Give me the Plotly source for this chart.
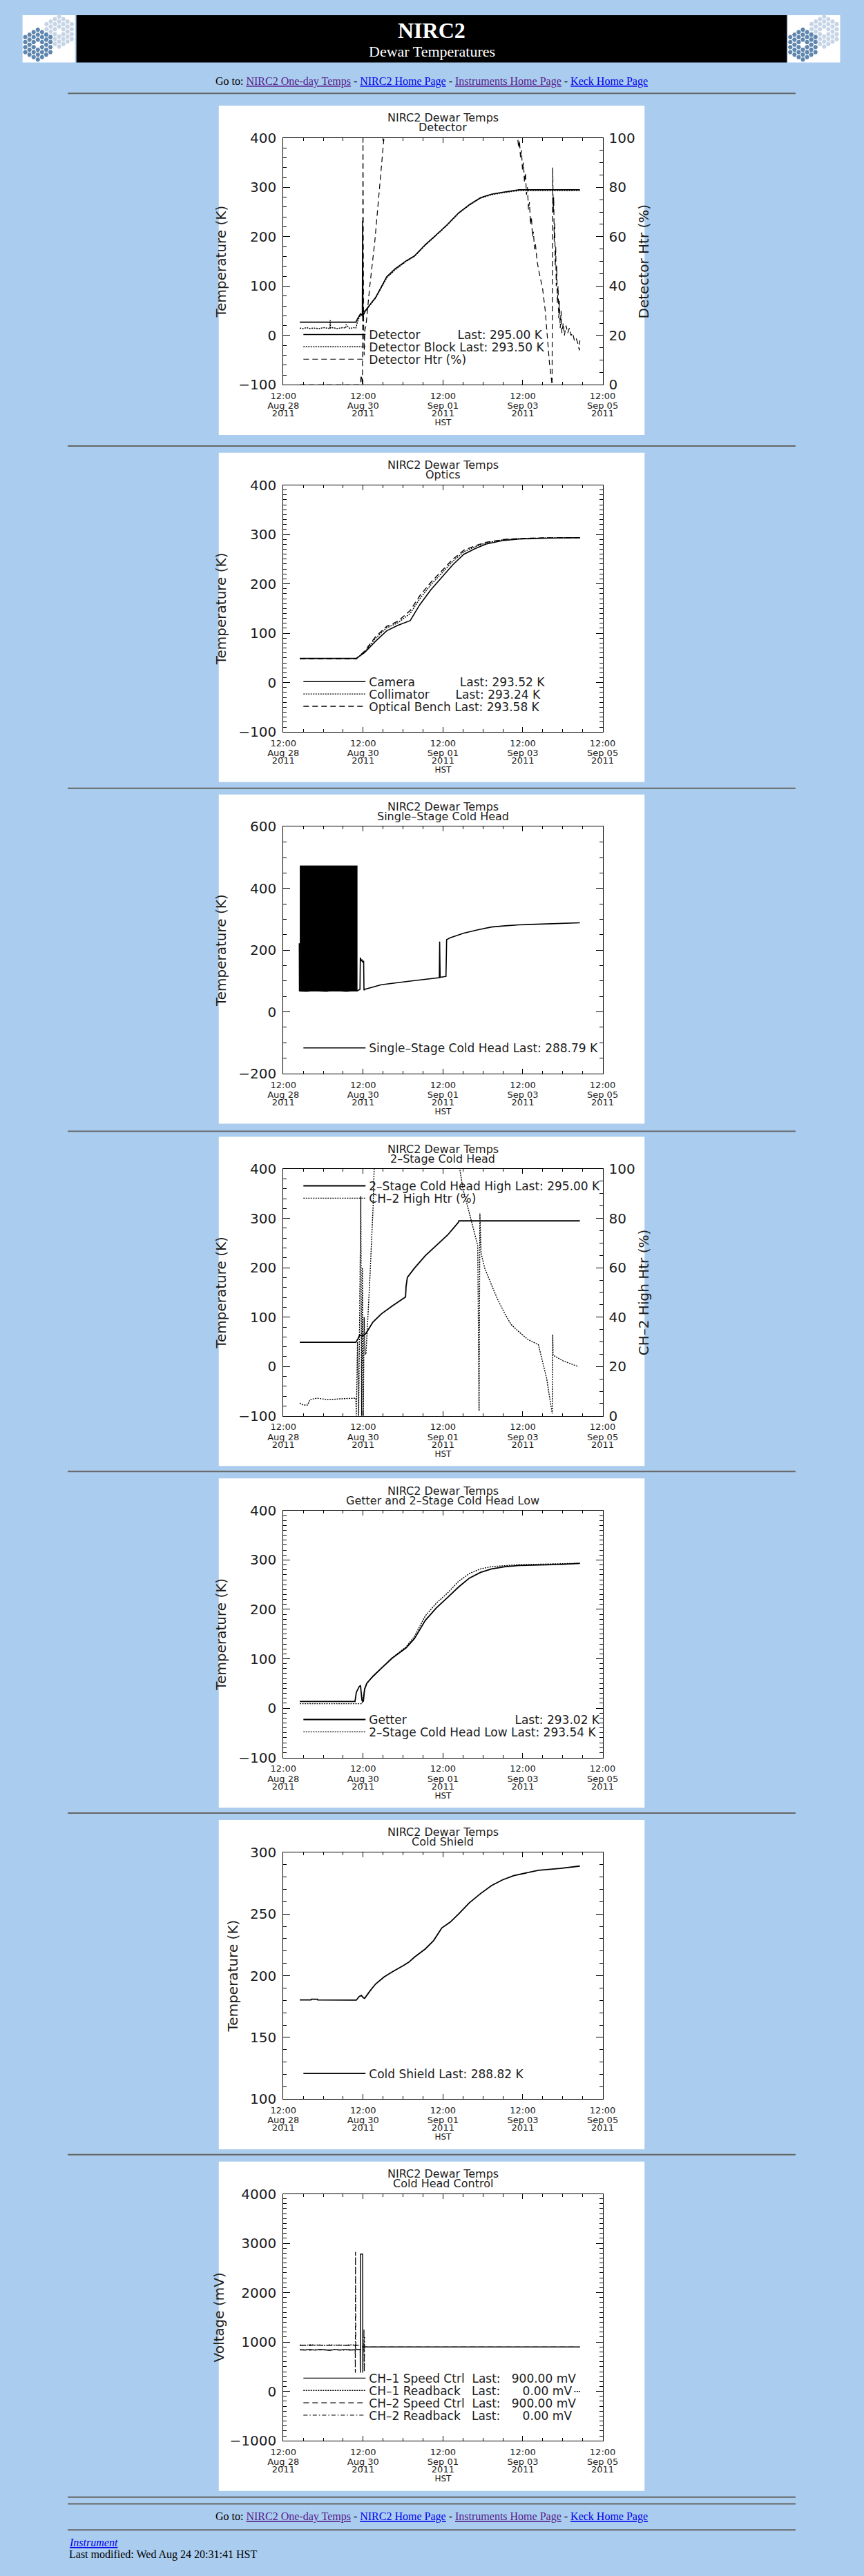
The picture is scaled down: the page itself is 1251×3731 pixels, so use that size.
import math
import plotly.graph_objects as go

# Page geometry (screen pixels, origin top-left)
PAGE_W, PAGE_H = 1251, 3731
PAGE_BG = "#AACCEE"
INK = "#1c1c1c"
PLOT_FONT = "DejaVu Sans"
PAGE_FONT = "Liberation Serif"

PANEL_TOPS = [142, 648, 1146, 1645, 2143, 2641, 3139]
RULES_Y = [124, 638, 1137, 1637, 2133, 2631, 3129, 3628, 3638, 3676]

# ---------------------------------------------------------------- data
# time axis: hours since 2011-08-28 12:00 HST
X_TICKS = [0, 48, 96, 144, 192]
X_TICK_TIME = ["12:00", "12:00", "12:00", "12:00", "12:00"]
X_TICK_DATE = ["Aug 28", "Aug 30", "Sep 01", "Sep 03", "Sep 05"]
X_TICK_YEAR = ["2011", "2011", "2011", "2011", "2011"]

# Detector (K)
DETECTOR = [(9.9, 27), (43.6, 27), (44.8, 35), (46.4, 44), (47.5, 41), (47.7, 232), (47.9, 40),
            (49.7, 52), (55.5, 77), (62.2, 119), (67.2, 135), (73.8, 151), (78.8, 161), (85.4, 184),
            (92.0, 204), (98.7, 225), (105.3, 248), (111.9, 265), (118.6, 279), (125.2, 286),
            (131.8, 290), (138.5, 293), (141.8, 295), (178.3, 295)]
DETECTOR_BLOCK = [(9.9, 15), (12, 14), (14, 16), (16, 14), (18, 15), (20, 15), (22, 14), (24, 16),
                  (26, 15), (28, 14), (28.2, 31), (28.4, 15), (30, 16), (32, 14), (34, 15), (36, 16),
                  (37.5, 15), (37.7, 22), (40, 14), (42, 16), (43.6, 15), (44.8, 30), (46.4, 42),
                  (47.6, 39), (48.9, 50), (49.7, 51), (55.5, 76), (62.2, 117), (67.2, 133), (73.8, 150),
                  (78.8, 160), (85.4, 183), (92.0, 203), (98.7, 224), (105.3, 247), (111.9, 264),
                  (118.6, 278), (125.2, 285), (131.8, 289), (138.5, 292), (141.8, 293.5), (178.3, 293.5)]
# Detector heater (%)
DETECTOR_HTR = [(9.9, 0), (46.0, 0), (46.9, 4), (47.3, 1), (47.6, 0), (47.9, 105), (48.2, 30),
                (48.6, 12), (49.0, 22), (49.7, 24), (52.0, 40), (55.0, 58), (58.0, 80), (60.5, 100),
                (62.0, 112), (140.0, 112), (140.9, 100), (141.5, 96), (142.0, 99), (142.6, 92),
                (143.2, 95), (143.8, 87), (144.4, 90), (145.0, 82), (145.6, 86), (146.2, 77), (146.8, 80),
                (147.4, 71), (148.0, 74), (148.6, 65), (149.2, 68), (149.8, 60), (150.4, 62), (151.0, 55),
                (151.6, 57), (152.2, 51), (152.6, 50), (154.0, 45), (155.9, 39), (157.5, 30), (158.4, 22),
                (160.0, 9), (161.6, 0), (162.0, 88), (162.3, 70), (162.6, 76), (162.9, 58), (163.2, 66),
                (163.5, 48), (163.8, 56), (164.1, 40), (164.4, 48), (164.8, 33), (165.2, 40), (165.6, 27),
                (166.0, 34), (166.5, 23), (167.0, 30), (167.5, 21), (168.3, 25), (169.0, 20), (170.0, 24),
                (171.0, 21), (172.0, 23), (173.0, 20), (174.0, 21), (175.0, 18), (176.0, 19), (177.0, 17),
                (178.0, 14), (178.3, 18)]

# Optics (K)
CAMERA = [(9.9, 49), (43.9, 49), (48.9, 61), (55.5, 84), (62.2, 105), (68.8, 116), (76.3, 125.5),
          (82.1, 158), (88.7, 188), (95.3, 213), (102.0, 239), (108.6, 260), (115.2, 271), (121.9, 280.6),
          (131.8, 287.5), (141.8, 290.7), (158.4, 292.5), (178.3, 293.5)]
COLLIMATOR = [(9.9, 49), (43.9, 49), (48.9, 62), (55.5, 90), (62.2, 111), (68.8, 121), (76.3, 140),
              (82.1, 170), (88.7, 198), (95.3, 222), (102.0, 246), (108.6, 265), (115.2, 275),
              (121.9, 283), (131.8, 289), (141.8, 291.5), (158.4, 293), (178.3, 293.2)]
OPTICAL_BENCH = [(9.9, 48), (43.9, 48), (48.9, 64), (55.5, 93), (62.2, 114), (68.8, 124), (76.3, 146),
                 (82.1, 176), (88.7, 203), (95.3, 226), (102.0, 250), (108.6, 268), (115.2, 277),
                 (121.9, 284), (131.8, 289.5), (141.8, 291.8), (158.4, 293.2), (178.3, 293.6)]

# Single-stage cold head (K): fast cycling before the warm-up, then a single trace
SS_BLOCK_HOURS = [9.9, 14, 18, 22, 26, 30, 34, 38, 42, 44.6]
SS_BLOCK_MIN = [67, 66, 68, 67, 66, 69, 67, 66, 68, 67]
SS_BLOCK_MAX = [473, 473, 473, 473, 473, 473, 473, 473, 473, 473]
SINGLE_STAGE = [(9.6, 222), (9.7, 68), (44.3, 68), (46.1, 73), (46.3, 176), (46.9, 166), (47.3, 168),
                (47.6, 162), (48.3, 165), (48.5, 70), (48.9, 73), (58.9, 88), (75.4, 99), (92.0, 110),
                (93.8, 111), (94.0, 228), (94.3, 112), (97.8, 115), (98.2, 234), (100.3, 240),
                (108.6, 255), (116.9, 266), (125.2, 275), (133.5, 279), (141.8, 282), (158.4, 285),
                (178.3, 288.8)]

# 2-stage cold head high (K) and its heater (%)
CH2_HIGH = [(9.9, 49), (43.6, 49), (44.8, 55.5), (45.9, 64), (46.9, 62.5), (48.1, 62.5), (49.7, 67),
            (53.9, 90), (58.9, 106.5), (65.5, 122.7), (73.5, 141), (73.8, 162), (74.6, 180.5),
            (78.8, 199), (85.4, 224.5), (92.0, 245.4), (98.7, 266), (105.3, 292), (105.6, 295),
            (178.3, 295)]
CH2_HIGH_HTR = [(9.9, 5.2), (12.0, 4.4), (14.5, 4.4), (16.1, 6.6), (20.2, 7.2), (26.8, 6.6), (33.5, 6.9),
                (43.6, 7.2), (43.9, 0), (44.6, 30), (45.3, 0), (46.6, 89), (47.1, 0), (47.6, 60),
                (48.1, 0), (48.6, 40), (49.2, 25), (49.7, 25), (52.0, 55), (54.0, 85), (55.0, 110),
                (105.5, 110), (106.1, 100), (108.0, 92), (111.9, 82), (115.0, 74), (116.9, 69),
                (117.7, 2), (118.2, 82), (118.9, 66), (121.0, 60), (125.2, 53), (129.0, 47), (133.5, 41),
                (137.0, 37), (141.8, 34), (147.0, 31), (153.4, 28.8), (156.0, 22), (158.4, 15),
                (160.0, 8), (161.7, 1), (162.0, 33), (162.2, 24.6), (165.0, 23.5), (168.3, 22.3),
                (172.0, 21.3), (177.4, 20)]

# Getter and 2-stage cold head low (K)
GETTER = [(9.9, 13.4), (43.1, 13.4), (43.9, 32), (45.6, 43.5), (46.4, 46), (47.3, 15.7), (48.1, 13.4),
          (48.9, 39), (50.2, 50.5), (53.9, 64.4), (58.9, 80.6), (65.5, 101.4), (73.8, 122), (78.8, 140.7),
          (85.4, 177.8), (92.0, 203), (98.7, 224), (105.3, 245), (111.9, 263.4), (118.6, 275),
          (125.2, 282), (133.5, 286.6), (141.8, 289), (153.4, 289.5), (166.6, 291), (178.3, 293)]
CH2_LOW = [(9.9, 9), (47.3, 9), (48.9, 38), (50.2, 50), (53.9, 65), (58.9, 81), (65.5, 102), (73.8, 124),
           (78.8, 145), (85.4, 187), (92.0, 212.5), (98.7, 233), (105.3, 256.5), (111.9, 272.7),
           (118.6, 282), (125.2, 286.6), (133.5, 289), (141.8, 290.5), (160.0, 292), (178.3, 293.5)]

# Cold shield (K)
COLD_SHIELD = [(9.9, 180.4), (16.6, 180.4), (16.8, 181.0), (20.5, 181.0), (20.7, 180.4), (43.9, 180.2),
               (45.6, 183.1), (46.9, 184.0), (48.1, 182.2), (48.9, 181.7), (52.2, 187.8), (55.5, 193.3),
               (60.5, 198.9), (65.5, 203.1), (72.1, 208.1), (75.4, 210.9), (78.8, 215.0), (85.4, 221.7),
               (90.4, 228.5), (95.3, 238.7), (100.3, 243.3), (105.3, 249.8), (111.9, 259.1),
               (118.6, 266.5), (125.2, 273.0), (131.8, 277.6), (138.5, 281.0), (145.1, 283.1),
               (153.4, 285.4), (166.6, 286.9), (178.3, 288.8)]

# Cold head control (mV)
CH1_SPEED = [(9.9, 845), (13, 838), (16, 850), (19, 836), (22, 847), (25, 840), (28, 833), (31, 846),
             (34, 838), (37, 849), (40, 837), (43.6, 845), (46.2, 845), (46.3, 380), (46.4, 2780),
             (47.7, 2780), (47.8, 380), (48.0, 890), (48.9, 900), (178.3, 900)]
CH1_READ = [(9.9, 940), (13, 932), (16, 945), (19, 936), (22, 941), (25, 930), (28, 944), (31, 935),
            (34, 940), (37, 931), (40, 943), (43.6, 936), (43.8, None), (174.9, 0), (178.3, 0)]
CH2_SPEED = [(9.9, 930), (13, 938), (16, 927), (19, 942), (22, 933), (25, 939), (28, 929), (31, 941),
             (34, 932), (37, 936), (40, 928), (43.6, 938), (46.0, 930), (48.0, 900), (178.3, 900)]
CH2_READ = [(9.9, 838), (13, 846), (16, 835), (19, 848), (22, 839), (25, 844), (28, 836), (31, 849),
            (34, 841), (37, 834), (40, 846), (43.2, 842), (43.3, 380), (43.4, 2824), (43.5, 380),
            (43.6, 842), (48.4, 842), (48.5, 1260), (48.7, 400), (48.9, 1100), (49.0, None),
            (177.6, 0), (178.3, 0)]


def fx(x):
    return x / PAGE_W


def fy(y):
    return 1 - y / PAGE_H


fig = go.Figure()
shapes = []
annotations = []
layout = dict(width=PAGE_W, height=PAGE_H, margin=dict(l=0, r=0, t=0, b=0),
              paper_bgcolor=PAGE_BG, plot_bgcolor="white", showlegend=True,
              font=dict(family=PLOT_FONT, color=INK))


def note(x, y, text, font, xanchor="center"):
    # paper-referenced text; anchors fixed so "auto" does not shift it
    annotations.append(dict(x=fx(x), y=fy(y), xref="paper", yref="paper", showarrow=False, text=text,
                            xanchor=xanchor, yanchor="middle", font=font))


# ---------------------------------------------------------------- page furniture
def hex_path(cx, cy, r):
    pts = []
    for k in range(6):
        a = math.radians(60 * k)
        pts.append((fx(cx + r * math.cos(a)), fy(cy + r * math.sin(a))))
    return "M " + " L ".join(f"{x:.6f},{y:.6f}" for x, y in pts) + " Z"


def mirror_logo(cx, cy, colour):
    step = 4.2
    for q in range(-3, 4):
        for r in range(-3, 4):
            s = -q - r
            if max(abs(q), abs(r), abs(s)) > 3 or (q == 0 and r == 0):
                continue
            hx = cx + 1.5 * step * q
            hy = cy + math.sqrt(3) * step * (r + q / 2)
            shapes.append(dict(type="path", xref="paper", yref="paper", path=hex_path(hx, hy, 3.5),
                               fillcolor=colour, line=dict(width=0), layer="above"))


def rect(x0, y0, x1, y1, colour, layer="below"):
    shapes.append(dict(type="rect", xref="paper", yref="paper", x0=fx(x0), x1=fx(x1), y0=fy(y1), y1=fy(y0),
                       fillcolor=colour, line=dict(width=0), layer=layer))


# banner
rect(91, 10, 1159, 79, "black")
for off in (0, 1150):
    rect(10 + off, 10, 89 + off, 79, "white")
    mirror_logo(65 + off, 34, "#C6D5E6")
    mirror_logo(33 + off, 53, "#5E86AE")

note(625, 32, "<b>NIRC2</b>", dict(family=PAGE_FONT, size=32, color="white"))
note(625, 63, "Dewar Temperatures", dict(family=PAGE_FONT, size=22, color="white"))

VISITED = "#551A8B"
LINK = "#0000EE"
goto = ("Go to: <span style='color:%s'><u>NIRC2 One-day Temps</u></span> - "
        "<span style='color:%s'><u>NIRC2 Home Page</u></span> - "
        "<span style='color:%s'><u>Instruments Home Page</u></span> - "
        "<span style='color:%s'><u>Keck Home Page</u></span>") % (VISITED, LINK, VISITED, LINK)
for gy in (107, 3657):
    note(625, gy, goto, dict(family=PAGE_FONT, size=16, color="black"))
note(78, 3694, "<i><u>Instrument</u></i>", dict(family=PAGE_FONT, size=16, color=LINK), xanchor="left")
note(78, 3712, "Last modified: Wed Aug 24 20:31:41 HST", dict(family=PAGE_FONT, size=16, color="black"),
     xanchor="left")

for ry in RULES_Y:
    shapes.append(dict(type="line", xref="paper", yref="paper", x0=fx(78), x1=fx(1172), y0=fy(ry), y1=fy(ry),
                       line=dict(color="#666666", width=2), layer="below"))

# ---------------------------------------------------------------- plot panels
PANELS = [
    dict(sub="Detector", yrange=[-100, 400], dtick=100, minor=20, ytitle="Temperature (K)"),
    dict(sub="Optics", yrange=[-100, 400], dtick=100, minor=10, ytitle="Temperature (K)"),
    dict(sub="Single–Stage Cold Head", yrange=[-200, 600], dtick=200, minor=50, ytitle="Temperature (K)"),
    dict(sub="2–Stage Cold Head", yrange=[-100, 400], dtick=100, minor=20, ytitle="Temperature (K)"),
    dict(sub="Getter and 2–Stage Cold Head Low", yrange=[-100, 400], dtick=100, minor=10,
         ytitle="Temperature (K)"),
    dict(sub="Cold Shield", yrange=[100, 300], dtick=50, minor=10, ytitle="Temperature (K)"),
    dict(sub="Cold Head Control", yrange=[-1000, 4000], dtick=1000, minor=100, ytitle="Voltage (mV)"),
]
RIGHT_AXES = {1: ("yaxis8", "Detector Htr (%)"), 4: ("yaxis9", "CH–2 High Htr (%)")}

tick_font_y = dict(family=PLOT_FONT, size=20, color=INK)
tick_font_x = dict(family=PLOT_FONT, size=13, color=INK)
# label-only x axes for the 2nd and 3rd line of the time labels and the "HST" caption
LABEL_ROWS = [(X_TICKS, X_TICK_DATE, 21, 13), (X_TICKS, X_TICK_YEAR, 32, 13), ([96], ["HST"], 46, 12)]
extra_x = 7

for n, (top, p) in enumerate(zip(PANEL_TOPS, PANELS), start=1):
    rect(305, top, 945, top + 480, "white")
    note(642, top + 18, "NIRC2 Dewar Temps", dict(family=PLOT_FONT, size=16, color=INK))
    note(642, top + 32, p["sub"], dict(family=PLOT_FONT, size=16, color=INK))
    xid = "x" if n == 1 else f"x{n}"
    xkey = "xaxis" if n == 1 else f"xaxis{n}"
    ykey = "yaxis" if n == 1 else f"yaxis{n}"
    layout[xkey] = dict(domain=[fx(402), fx(882)], anchor=f"y{n}", range=[0, 192], tickmode="array",
                        tickvals=X_TICKS, ticktext=X_TICK_TIME, ticks="inside", ticklen=7, tickwidth=1,
                        tickcolor="black", showline=True, linecolor="black", linewidth=1, mirror="ticks",
                        showgrid=False, zeroline=False, tickfont=tick_font_x, ticklabelstandoff=4,
                        minor=dict(dtick=12, tick0=0, ticks="inside", ticklen=4, tickcolor="black"),
                        fixedrange=True)
    for vals, texts, standoff, size in LABEL_ROWS:
        extra_x += 1
        layout[f"xaxis{extra_x}"] = dict(overlaying=xid, anchor=f"y{n}", side="bottom", range=[0, 192],
                                         tickmode="array", tickvals=vals, ticktext=texts, ticks="",
                                         showline=False, showgrid=False, zeroline=False,
                                         tickfont=dict(family=PLOT_FONT, size=size, color=INK),
                                         ticklabelstandoff=standoff, fixedrange=True)
        # an empty trace registers the label-only axis so plotly draws it
        fig.add_trace(go.Scatter(x=[None], y=[None], xaxis=f"x{extra_x}", yaxis=f"y{n}", mode="lines",
                                 showlegend=False, hoverinfo="skip"))
    has_right = n in RIGHT_AXES
    layout[ykey] = dict(domain=[fy(top + 407), fy(top + 47)], anchor=f"x{n}", range=p["yrange"],
                        tickmode="linear", tick0=p["yrange"][0], dtick=p["dtick"], ticks="inside",
                        ticklen=10, tickwidth=1, tickcolor="black", showline=True, linecolor="black",
                        linewidth=1, mirror=True if has_right else "ticks", showgrid=False, zeroline=False,
                        tickfont=tick_font_y, ticklabelstandoff=5,
                        minor=dict(dtick=p["minor"], ticks="inside", ticklen=5, tickcolor="black"),
                        title=dict(text=p["ytitle"], font=dict(family=PLOT_FONT, size=20, color=INK),
                                   standoff=12 if n != 7 else 2),
                        fixedrange=True)
    if has_right:
        rkey, rtitle = RIGHT_AXES[n]
        layout[rkey] = dict(overlaying=f"y{n}" if n > 1 else "y", anchor=f"x{n}", side="right",
                            range=[0, 100], tickmode="linear", tick0=0, dtick=20, ticks="inside",
                            ticklen=10, tickwidth=1, tickcolor="black", showline=True, linecolor="black",
                            showgrid=False, zeroline=False, tickfont=tick_font_y, ticklabelstandoff=4,
                            minor=dict(dtick=5, ticks="inside", ticklen=5, tickcolor="black"),
                            title=dict(text=rtitle, font=dict(family=PLOT_FONT, size=20, color=INK), standoff=6),
                            fixedrange=True)

# one legend per series so every row sits where the original legend row is
legend_count = [0]
NB = "\u00a0"
DASHES = {"solid": "solid", "dot": "2px,1.5px", "dash": "8px,5px", "dashdot": "6px,3px,1.5px,3px"}


def add_series(n, pts, name, row_y, dash="solid", width=1.2, yaxis=None):
    legend_count[0] += 1
    k = legend_count[0]
    lkey = "legend" if k == 1 else f"legend{k}"
    layout[lkey] = dict(x=fx(427), y=fy(PANEL_TOPS[n - 1] + row_y - 6), xanchor="left", yanchor="middle",
                        bgcolor="rgba(0,0,0,0)", borderwidth=0, itemwidth=90,
                        font=dict(family=PLOT_FONT, size=17, color=INK))
    fig.add_trace(go.Scatter(x=[q[0] for q in pts], y=[q[1] for q in pts], mode="lines", name=name,
                             xaxis=f"x{n}", yaxis=yaxis or f"y{n}", legend=lkey, hoverinfo="skip",
                             line=dict(color="black", width=width, dash=DASHES[dash])))


add_series(1, DETECTOR, "Detector" + NB * 10 + "Last: 295.00 K", 340, width=1.6)
add_series(1, DETECTOR_BLOCK, "Detector Block Last: 293.50 K", 358, dash="dot", width=1.5)
add_series(1, DETECTOR_HTR, "Detector Htr (%)", 376, dash="dash", yaxis="y8")

add_series(2, CAMERA, "Camera" + NB * 12 + "Last: 293.52 K", 340, width=1.6)
add_series(2, COLLIMATOR, "Collimator" + NB * 7 + "Last: 293.24 K", 358, dash="dot", width=1.4)
add_series(2, OPTICAL_BENCH, "Optical Bench Last: 293.58 K", 376, dash="dash", width=1.4)

fig.add_trace(go.Scatter(x=SS_BLOCK_HOURS, y=SS_BLOCK_MIN, mode="lines", xaxis="x3", yaxis="y3",
                         showlegend=False, hoverinfo="skip", line=dict(color="black", width=1)))
fig.add_trace(go.Scatter(x=SS_BLOCK_HOURS, y=SS_BLOCK_MAX, mode="lines", xaxis="x3", yaxis="y3",
                         showlegend=False, hoverinfo="skip", fill="tonexty", fillcolor="black",
                         line=dict(color="black", width=1)))
add_series(3, SINGLE_STAGE, "Single–Stage Cold Head Last: 288.79 K", 376, width=1.6)

add_series(4, CH2_HIGH, "2–Stage Cold Head High Last: 295.00 K", 78, width=1.8)
add_series(4, CH2_HIGH_HTR, "CH–2 High Htr (%)", 96, dash="dot", width=1.4, yaxis="y9")

add_series(5, GETTER, "Getter" + NB * 29 + "Last: 293.02 K", 358, width=1.8)
add_series(5, CH2_LOW, "2–Stage Cold Head Low Last: 293.54 K", 376, dash="dot", width=1.4)

add_series(6, COLD_SHIELD, "Cold Shield Last: 288.82 K", 376, width=1.8)

add_series(7, CH1_SPEED, "CH–1 Speed Ctrl" + NB * 2 + "Last:" + NB * 3 + "900.00 mV", 322, width=1.4)
add_series(7, CH1_READ, "CH–1 Readback" + NB * 3 + "Last:" + NB * 6 + "0.00 mV", 340, dash="dot", width=1.4)
add_series(7, CH2_SPEED, "CH–2 Speed Ctrl" + NB * 2 + "Last:" + NB * 3 + "900.00 mV", 358, dash="dash")
add_series(7, CH2_READ, "CH–2 Readback" + NB * 3 + "Last:" + NB * 6 + "0.00 mV", 376, dash="dashdot")

layout["shapes"] = shapes
layout["annotations"] = annotations
fig.update_layout(**layout)

fig.write_html("out.html", config={"displayModeBar": False},
               post_script="document.body.style.margin='0';document.body.style.background='%s';" % PAGE_BG)
